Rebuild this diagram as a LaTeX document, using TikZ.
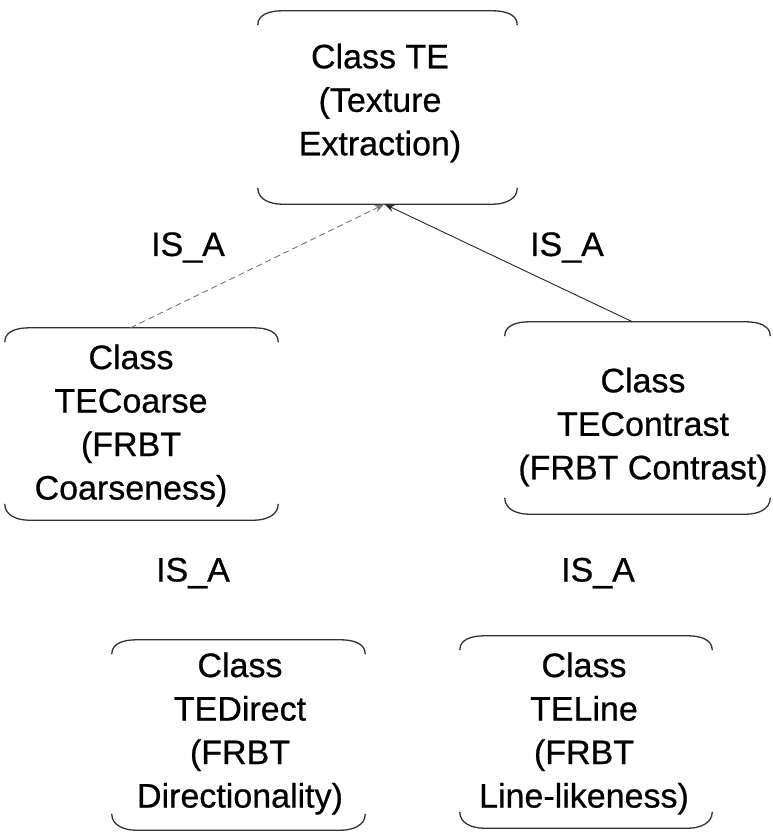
\documentclass[tikz,border=0pt]{standalone}
\usepackage{fontspec}
\setmainfont{Liberation Sans}
\newfontfamily\labelfont{Liberation Sans}[FakeBold=0.6]
\usetikzlibrary{arrows.meta}

% open frame: top and bottom edges of a rounded box, sides left out
\newcommand\openframe[1]{%
  \draw[framestroke]
    ([yshift=-14pt]#1.north west) to[out=90,in=180] ([xshift=24pt]#1.north west)
    -- ([xshift=-24pt]#1.north east) to[out=0,in=90] ([yshift=-14pt]#1.north east);
  \draw[framestroke]
    ([yshift=16pt]#1.south west) to[out=-90,in=180] ([xshift=24pt]#1.south west)
    -- ([xshift=-24pt]#1.south east) to[out=0,in=-90] ([yshift=16pt]#1.south east);
}

\begin{document}
\begin{tikzpicture}[x=1pt,y=1pt,
  framebox/.style={inner sep=0pt},
  framestroke/.style={draw=black!80, line width=1.3pt, line cap=round},
  classtext/.style={font=\labelfont\fontsize{34pt}{43.5pt}\selectfont, align=center, inner sep=0pt},
  relname/.style={font=\labelfont\fontsize{34pt}{40pt}\selectfont, inner sep=0pt},
  isaline/.style={line width=0.9pt, -{Stealth[length=10pt,width=7pt]}},
]
\useasboundingbox (0,0) rectangle (773,-833);

% class frames
\node[framebox, minimum width=259pt, minimum height=193pt] (te)       at (387.5,-107.5) {};
\node[framebox, minimum width=273pt, minimum height=192pt] (coarse)   at (141.5,-424) {};
\node[framebox, minimum width=265pt, minimum height=192pt] (contrast) at (637.5,-418) {};
\node[framebox, minimum width=253pt, minimum height=190pt] (direct)   at (238.5,-735) {};
\node[framebox, minimum width=252pt, minimum height=192pt] (line)     at (586,-732) {};

\openframe{te}
\openframe{coarse}
\openframe{contrast}
\openframe{direct}
\openframe{line}

% class names
\node[classtext] (te-t)       at (380,-103)   {Class TE\\(Texture\\Extraction)};
\node[classtext] (coarse-t)   at (131,-425.5) {Class\\TECoarse\\(FRBT\\Coarseness)};
\node[classtext] (contrast-t) at (643,-427)   {Class\\TEContrast\\(FRBT Contrast)};
\node[classtext] (direct-t)   at (240,-733.5) {Class\\TEDirect\\(FRBT\\Directionality)};
\node[classtext] (line-t)     at (584,-733.5) {Class\\TELine\\(FRBT\\Line-likeness)};

% inheritance links
\coordinate (apex) at ([xshift=-3pt]te.south);
\draw[isaline, draw=black!55, dash pattern=on 6pt off 4pt] ([xshift=-11pt]coarse.north) -- (apex);
\draw[isaline, draw=black!85] ([xshift=-5pt]contrast.north) -- (apex);

% relation labels
\node[relname] (isa1) at (188,-247.5) {IS\_A};
\node[relname] (isa2) at (567,-247.5) {IS\_A};
\node[relname] (isa3) at (193,-573)   {IS\_A};
\node[relname] (isa4) at (598,-573)   {IS\_A};
\end{tikzpicture}
\end{document}
